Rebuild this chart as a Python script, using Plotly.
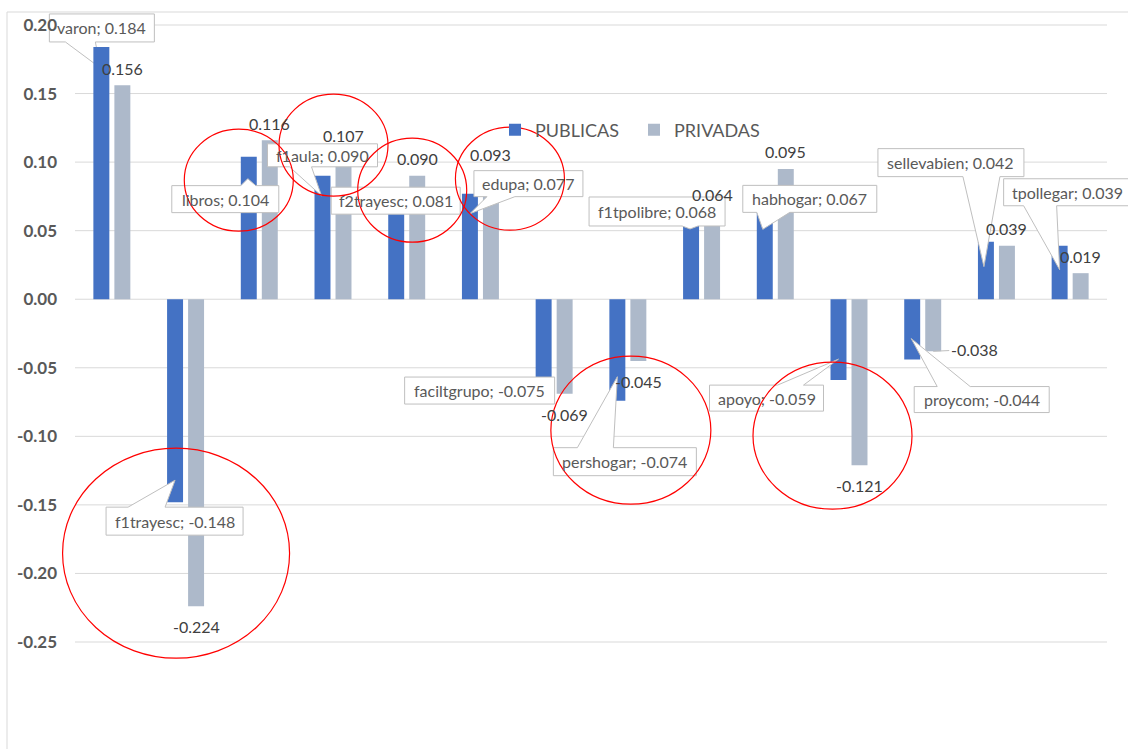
import plotly.graph_objects as go

# ---------------- data ----------------
categories = ["varon", "f1trayesc", "libros", "f1aula", "f2trayesc", "edupa",
              "faciltgrupo", "pershogar", "f1tpolibre", "habhogar", "apoyo",
              "proycom", "sellevabien", "tpollegar"]
publicas = [0.184, -0.148, 0.104, 0.090, 0.081, 0.077, -0.075, -0.074,
            0.068, 0.067, -0.059, -0.044, 0.042, 0.039]
privadas = [0.156, -0.224, 0.116, 0.107, 0.090, 0.093, -0.069, -0.045,
            0.064, 0.095, -0.121, -0.038, 0.039, 0.019]
series_names = ["PUBLICAS", "PRIVADAS"]
tick_values = [0.20, 0.15, 0.10, 0.05, 0.00, -0.05, -0.10, -0.15, -0.20, -0.25]
tick_labels = ["0.20", "0.15", "0.10", "0.05", "0.00", "-0.05", "-0.10",
               "-0.15", "-0.20", "-0.25"]
highlighted = ["f1trayesc", "libros", "f1aula", "f2trayesc", "edupa",
               "pershogar", "apoyo"]

# ---------------- layout / style ----------------
W, H = 1128, 749
AX_L, AX_R = 75, 1107          # horizontal extent of the plot area (px)
Y_TOP, Y_BOT = 25, 642         # pixel rows of the top / bottom tick values
N = len(categories)
CW = (AX_R - AX_L) / N
X_RANGE = [-0.5 - AX_L / CW, N - 0.5 + (W - AX_R) / CW]
PPU = (Y_BOT - Y_TOP) / (tick_values[0] - tick_values[-1])
Y_RANGE = [tick_values[-1] - (H - Y_BOT) / PPU, tick_values[0] + Y_TOP / PPU]

BLUE, GREY = "#4472C4", "#ADB9CA"
FONT = "Lato"
BLUE_OFF, GREY_OFF = -10.5, 10.5

# callout geometry (pixels, screen-down, relative to blue bar end)
# box = (x0, x1, y0, y1); wedge = (base0, base1, tipx, tipy)
callout_geom = {
    "varon":       ((-52, 53, -33, -5),   (-36, -6, -1, 21)),
    "f1trayesc":   ((-69, 68, 5, 33),     (-47, -10, 0, -22)),
    "libros":      ((-77, 30, 29, 56),    (-8, 7, -1, 22)),
    "f1aula":      ((-55, 55, -32, -9),   (-33, -11, -1, 20)),
    "f2trayesc":   ((-65, 64, -1, 26),    None),
    "edupa":       ((4, 113, -23, 3),     (17, 45, 0, 20)),
    "faciltgrupo": ((-139, 11, -25, 2),   None),
    "pershogar":   ((-64, 79, 47, 75),    (-40, -4, 0, -24)),
    "f1tpolibre":  ((-102, 34, -9, 20),   (-9, 7, -1, 23)),
    "habhogar":    ((-22, 112, -22, 5),   (-8, 25, -2, 22)),
    "apoyo":       ((-129, -15, 5, 31),   (-61, -35, 0, -21)),
    "proycom":     ((2, 137, 27, 53),     (25, 58, -1, -21)),
    "sellevabien": ((-108, 38, -93, -65), (-23, 14, -2, 25)),
    "tpollegar":   ((-56, 71, -67, -40),  (-36, -3, 0, 24)),
}
# callouts drawn beneath the axis tick labels (the tick label shows on top)
under_labels = {"varon"}
# highlight circles: (x0, x1, y0, y1) px relative to category centre / zero line, up positive
circle_geom = {
    "f1trayesc": (-123, 104, -359, -149),
    "libros":    (-75, 34, 68, 170),
    "f1aula":    (-54, 55, 103, 205),
    "f2trayesc": (-49, 60, 57, 161),
    "edupa":     (-25, 84, 69, 172),
    "pershogar": (-77, 83, -205, -57),
    "apoyo":     (-96, 63, -210, -63),
}

fig = go.Figure()
fig.add_trace(go.Bar(x=categories, y=publicas, name=series_names[0],
                     marker=dict(color=BLUE, line=dict(width=0))))
fig.add_trace(go.Bar(x=categories, y=privadas, name=series_names[1],
                     marker=dict(color=GREY, line=dict(width=0))))

shapes = []
annotations = []

# horizontal gridlines at the tick values, limited to the plot band
for v in tick_values:
    shapes.append(dict(type="line", xref="paper", yref="y", x0=AX_L / W,
                       x1=AX_R / W, y0=v, y1=v, layer="below",
                       line=dict(color="#D9D9D9", width=1)))


def callout_path(box, wedge):
    x0, x1, y0, y1 = box
    pts = [(x0, y0)]
    if wedge is not None and wedge[3] < y0:
        b0, b1, tx, ty = wedge
        pts += [(b0, y0), (tx, ty), (b1, y0)]
    pts += [(x1, y0), (x1, y1)]
    if wedge is not None and wedge[3] > y1:
        b0, b1, tx, ty = wedge
        pts += [(b1, y1), (tx, ty), (b0, y1)]
    pts += [(x0, y1)]
    return "M " + " L ".join(f"{BLUE_OFF + x:.1f},{-y:.1f}" for x, y in pts) + " Z"


# callouts for PUBLICAS
for cat, val in zip(categories, publicas):
    box, wedge = callout_geom[cat]
    shapes.append(dict(type="path", xref="x", yref="y", xsizemode="pixel",
                       ysizemode="pixel", xanchor=cat, yanchor=val,
                       path=callout_path(box, wedge), fillcolor="white",
                       line=dict(color="#BFBFBF", width=1),
                       layer="between" if cat in under_labels else "above"))
    annotations.append(dict(x=cat, y=val, xref="x", yref="y",
                            text=f"{cat}; {val:.3f}", showarrow=False,
                            xshift=BLUE_OFF + (box[0] + box[1]) / 2,
                            yshift=-(box[2] + box[3]) / 2,
                            xanchor="center", yanchor="middle",
                            font=dict(family=FONT, size=16, color="#595959")))

# red highlight circles
for cat in highlighted:
    x0, x1, y0, y1 = circle_geom[cat]
    shapes.append(dict(type="circle", xref="x", yref="y", xsizemode="pixel",
                       ysizemode="pixel", xanchor=cat, yanchor=0,
                       x0=x0, x1=x1, y0=y0, y1=y1,
                       line=dict(color="#FF0000", width=1.2), layer="above"))

# PRIVADAS value labels
for cat, val in zip(categories, privadas):
    if cat == "proycom":
        annotations.append(dict(x=cat, y=val, xref="x", yref="y",
                                text=f"{val:.3f}", showarrow=True, arrowhead=0,
                                arrowwidth=1, arrowcolor="#BFBFBF", standoff=0,
                                ax=41, ay=-2, xshift=GREY_OFF,
                                font=dict(family=FONT, size=16, color="#404040")))
    else:
        annotations.append(dict(x=cat, y=val, xref="x", yref="y",
                                text=f"{val:.3f}", showarrow=False,
                                xshift=GREY_OFF,
                                yshift=17 if val > 0 else -20.5,
                                xanchor="center", yanchor="middle",
                                font=dict(family=FONT, size=16, color="#404040")))

# chart frame (border of the chart area)
shapes.append(dict(type="line", xref="paper", yref="paper", x0=7 / W, x1=7 / W,
                   y0=1 - 12 / H, y1=-0.01, line=dict(color="#D9D9D9", width=1)))
shapes.append(dict(type="line", xref="paper", yref="paper", x0=7 / W, x1=1.01,
                   y0=1 - 12 / H, y1=1 - 12 / H,
                   line=dict(color="#D9D9D9", width=1)))

fig.update_layout(
    width=W, height=H,
    margin=dict(l=0, r=0, t=0, b=0, pad=0),
    paper_bgcolor="white", plot_bgcolor="white",
    barmode="group", bargap=0.43, bargroupgap=0.24,
    font=dict(family=FONT, color="#595959"),
    showlegend=True,
    legend=dict(orientation="h", x=495 / W, xanchor="left",
                y=1 - 130 / H, yanchor="middle",
                font=dict(family=FONT, size=18, color="#595959"),
                bgcolor="rgba(0,0,0,0)", entrywidth=94, entrywidthmode="pixels",
                traceorder="normal"),
    shapes=shapes, annotations=annotations,
    xaxis=dict(range=X_RANGE, showticklabels=False, showgrid=False,
               zeroline=False, showline=False, ticks="", fixedrange=True),
    yaxis=dict(range=Y_RANGE, anchor="free", position=AX_L / W,
               tickmode="array", tickvals=tick_values, ticktext=tick_labels,
               showgrid=False, zeroline=False, showline=False, ticks="",
               ticklabelstandoff=18, fixedrange=True,
               tickfont=dict(family=FONT, size=17, color="#595959",
                             weight="bold")),
)

fig.write_html("out.html", config={"displayModeBar": False},
               post_script="document.body.style.margin='0';")
